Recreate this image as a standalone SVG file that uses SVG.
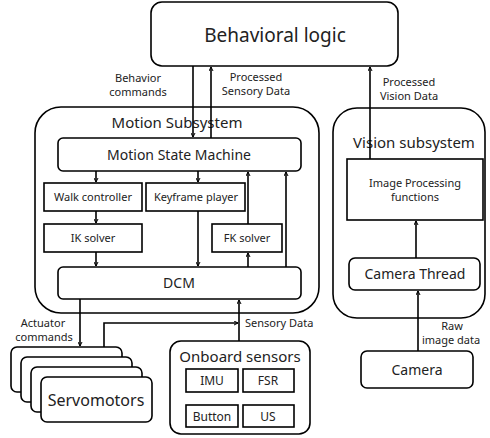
<svg xmlns="http://www.w3.org/2000/svg" width="490" height="438" viewBox="0 0 490 438">
<defs>
<style>
.b{fill:#fff;stroke:#000;stroke-width:1.6}
.t{font-family:"Noto Sans","DejaVu Sans",sans-serif;fill:#222;text-anchor:middle}
.c{fill:none;stroke:#000;stroke-width:1.6;marker-end:url(#ah)}
</style>
<marker id="ah" viewBox="0 0 10 10" refX="9" refY="5" markerWidth="5" markerHeight="5" orient="auto" markerUnits="userSpaceOnUse">
<path d="M1,1 L9,5 L1,9" fill="none" stroke="#000" stroke-width="2"/>
</marker>
</defs>
<rect width="490" height="438" fill="#fff"/>
<g id="behavioral"><rect class="b" x="151" y="2" width="247" height="64" rx="11"/><text class="t" x="275" y="42" font-size="19">Behavioral logic</text></g>
<g id="motion-subsystem"><rect class="b" x="35" y="107" width="284" height="206" rx="26"/><text class="t" x="177" y="128" font-size="15">Motion Subsystem</text></g>
<g id="vision-subsystem"><rect class="b" x="333" y="108" width="152" height="210" rx="24"/><text class="t" x="414" y="148" font-size="15">Vision subsystem</text></g>
<g id="msm"><rect class="b" x="58" y="138" width="243" height="33" rx="5"/><text class="t" x="179" y="160" font-size="14">Motion State Machine</text></g>
<g id="walk"><rect class="b" x="44" y="183" width="98" height="28"/><text class="t" x="93" y="201" font-size="11">Walk controller</text></g>
<g id="keyframe"><rect class="b" x="146" y="183" width="99" height="28"/><text class="t" x="196" y="201" font-size="11">Keyframe player</text></g>
<g id="ik"><rect class="b" x="44" y="224" width="98" height="28"/><text class="t" x="93" y="242" font-size="11">IK solver</text></g>
<g id="fk"><rect class="b" x="212" y="224" width="70" height="28"/><text class="t" x="247" y="242" font-size="11">FK solver</text></g>
<g id="dcm"><rect class="b" x="58" y="267" width="243" height="32" rx="5"/><text class="t" x="179" y="288" font-size="14">DCM</text></g>
<g id="image-processing"><rect class="b" x="347" y="159" width="136" height="61"/><text class="t" x="415" y="187" font-size="11">Image Processing</text><text class="t" x="415" y="201" font-size="11">functions</text></g>
<g id="camera-thread"><rect class="b" x="349" y="258" width="131" height="32" rx="6"/><text class="t" x="415" y="279" font-size="14">Camera Thread</text></g>
<g id="camera"><rect class="b" x="361" y="351" width="112" height="37" rx="6"/><text class="t" x="417" y="375" font-size="14">Camera</text></g>
<g id="servomotors">
<rect class="b" x="11" y="347" width="111" height="45" rx="6"/>
<rect class="b" x="21" y="357" width="111" height="45" rx="6"/>
<rect class="b" x="31" y="367" width="111" height="45" rx="6"/>
<rect class="b" x="41" y="377" width="111" height="45" rx="6"/>
<text class="t" x="96" y="406" font-size="16">Servomotors</text></g>
<g id="onboard-sensors"><rect class="b" x="170" y="341" width="140" height="93" rx="11"/><text class="t" x="240" y="362" font-size="15">Onboard sensors</text>
<rect class="b" x="186" y="369" width="52" height="23"/><text class="t" x="212" y="385" font-size="12">IMU</text>
<rect class="b" x="243" y="369" width="51" height="23"/><text class="t" x="268" y="385" font-size="12">FSR</text>
<rect class="b" x="186" y="405" width="52" height="22"/><text class="t" x="212" y="421" font-size="12">Button</text>
<rect class="b" x="243" y="405" width="51" height="22"/><text class="t" x="268" y="421" font-size="12">US</text></g>
<g id="connectors">
<path class="c" d="M193,66 V137"/>
<path class="c" d="M211,138 V67"/>
<path class="c" d="M370,159 V67"/>
<path class="c" d="M96,171 V182"/>
<path class="c" d="M198,171 V182"/>
<path class="c" d="M96,211 V223"/>
<path class="c" d="M96,252 V266"/>
<path class="c" d="M198,211 V266"/>
<path class="c" d="M248,224 V172"/>
<path class="c" d="M248,267 V253"/>
<path class="c" d="M286,267 V172"/>
<path class="c" d="M416,258 V221"/>
<path class="c" d="M418,351 V291"/>
<path class="c" d="M80,299 V346"/>
<path class="c" d="M104,347 V323 H238"/>
<path class="c" d="M239,341 V300"/>
</g>
<g id="labels" class="t" font-size="11">
<text x="138" y="82">Behavior</text><text x="138" y="96">commands</text>
<text x="256" y="81">Processed</text><text x="256" y="95">Sensory Data</text>
<text x="409" y="86">Processed</text><text x="409" y="100">Vision Data</text>
<text x="43" y="327">Actuator</text><text x="44" y="341">commands</text>
<text x="245" y="327" text-anchor="start">Sensory Data</text>
<text x="452" y="330">Raw</text><text x="451" y="344">image data</text>
</g>
</svg>
